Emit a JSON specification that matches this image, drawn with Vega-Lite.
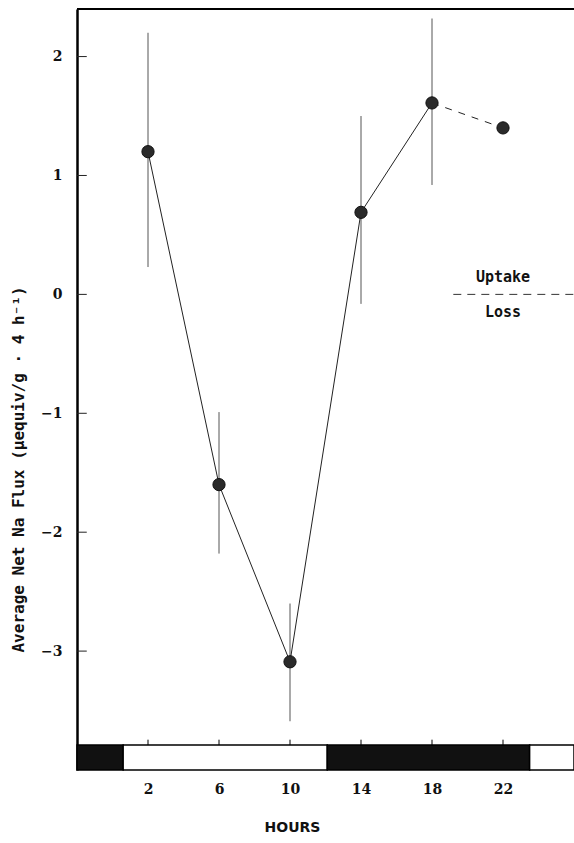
{
  "$schema": "https://vega.github.io/schema/vega-lite/v6.json",
  "width": 497,
  "height": 761,
  "autosize": {"type": "none"},
  "padding": {"left": 77, "top": 9, "right": 0, "bottom": 73},
  "background": "white",
  "config": {"view": {"stroke": null}, "axis": {"grid": false}},
  "datasets": {
    "flux": [
      {"hour": 2, "flux": 1.2, "lo": 0.23, "hi": 2.2},
      {"hour": 6, "flux": -1.6, "lo": -2.18, "hi": -0.99},
      {"hour": 10, "flux": -3.09, "lo": -3.59, "hi": -2.6},
      {"hour": 14, "flux": 0.69, "lo": -0.08, "hi": 1.5},
      {"hour": 18, "flux": 1.61, "lo": 0.92, "hi": 2.32}
    ],
    "dashed": [
      {"hour": 18, "flux": 1.61},
      {"hour": 22, "flux": 1.4}
    ],
    "points": [
      {"hour": 2, "flux": 1.2},
      {"hour": 6, "flux": -1.6},
      {"hour": 10, "flux": -3.09},
      {"hour": 14, "flux": 0.69},
      {"hour": 18, "flux": 1.61},
      {"hour": 22, "flux": 1.4}
    ],
    "photo": [
      {"start": -2, "end": 0.6, "phase": "dark"},
      {"start": 0.6, "end": 12.1, "phase": "light"},
      {"start": 12.1, "end": 23.5, "phase": "dark"},
      {"start": 23.5, "end": 26, "phase": "light"}
    ],
    "ticks": [{"hour": 2}, {"hour": 6}, {"hour": 10}, {"hour": 14}, {"hour": 18}, {"hour": 22}],
    "yticks": [{"flux": -3}, {"flux": -2}, {"flux": -1}, {"flux": 0}, {"flux": 1}, {"flux": 2}],
    "labels": [
      {"hour": 22, "flux": 0.15, "text": "Uptake"},
      {"hour": 22, "flux": -0.15, "text": "Loss"}
    ],
    "divider": [{"hour": 19.2, "hour2": 26, "flux": 0}]
  },
  "layer": [
    {
      "data": {"name": "photo"},
      "mark": {"type": "rect", "stroke": "black", "strokeWidth": 1.5},
      "encoding": {
        "x": {"field": "start", "type": "quantitative", "scale": {"domain": [-2, 26], "nice": false, "zero": false}},
        "x2": {"field": "end"},
        "y": {"datum": -3.79, "type": "quantitative", "scale": {"domain": [-4, 2.4], "nice": false, "zero": false}},
        "y2": {"datum": -4},
        "fill": {"field": "phase", "type": "nominal", "scale": {"domain": ["dark", "light"], "range": ["#111111", "white"]}, "legend": null}
      }
    },
    {
      "data": {"name": "ticks"},
      "mark": {"type": "rule", "color": "black", "strokeWidth": 1},
      "encoding": {
        "x": {"field": "hour", "type": "quantitative"},
        "y": {"datum": -3.79, "type": "quantitative"},
        "y2": {"datum": -3.745}
      }
    },
    {
      "data": {"name": "yticks"},
      "mark": {"type": "rule", "color": "#222222", "strokeWidth": 1},
      "encoding": {
        "x": {"datum": -2, "type": "quantitative"},
        "x2": {"datum": -1.45},
        "y": {"field": "flux", "type": "quantitative"}
      }
    },
    {
      "data": {"name": "ticks"},
      "mark": {"type": "rule", "color": "black", "strokeWidth": 2},
      "encoding": {
        "y": {"datum": 2.4, "type": "quantitative"}
      }
    },
    {
      "data": {"name": "flux"},
      "mark": {"type": "rule", "color": "#555555", "strokeWidth": 1},
      "encoding": {
        "x": {"field": "hour", "type": "quantitative"},
        "y": {"field": "lo", "type": "quantitative"},
        "y2": {"field": "hi"}
      }
    },
    {
      "data": {"name": "flux"},
      "mark": {"type": "line", "color": "#222222", "strokeWidth": 1},
      "encoding": {
        "x": {"field": "hour", "type": "quantitative"},
        "y": {"field": "flux", "type": "quantitative"}
      }
    },
    {
      "data": {"name": "dashed"},
      "mark": {"type": "line", "color": "#222222", "strokeWidth": 1, "strokeDash": [7, 7]},
      "encoding": {
        "x": {"field": "hour", "type": "quantitative"},
        "y": {"field": "flux", "type": "quantitative"}
      }
    },
    {
      "data": {"name": "points"},
      "mark": {"type": "circle", "size": 150, "color": "#2a2a2a", "opacity": 1, "stroke": "#111111", "strokeWidth": 1},
      "encoding": {
        "x": {
          "field": "hour", "type": "quantitative",
          "axis": {
            "title": "HOURS",
            "values": [2, 6, 10, 14, 18, 22],
            "format": "d",
            "domain": false,
            "ticks": false,
            "labelFont": "DejaVu Serif",
            "labelFontWeight": "bold",
            "labelFontSize": 14,
            "labelColor": "#111111",
            "labelPadding": 12,
            "titleFont": "DejaVu Sans",
            "titleFontWeight": "bold",
            "titleFontSize": 14,
            "titleColor": "#111111",
            "titleX": 215,
            "titleAlign": "center",
            "titlePadding": 24
          }
        },
        "y": {
          "field": "flux", "type": "quantitative",
          "axis": {
            "title": "Average Net Na Flux (μequiv/g · 4 h⁻¹)",
            "values": [-3, -2, -1, 0, 1, 2],
            "format": "d",
            "domain": true,
            "domainColor": "black",
            "domainWidth": 2.5,
            "ticks": false,
            "labelFont": "DejaVu Serif",
            "labelFontWeight": "bold",
            "labelFontSize": 14,
            "labelColor": "#111111",
            "labelPadding": 15,
            "titleFont": "DejaVu Sans Mono",
            "titleFontWeight": "bold",
            "titleFontSize": 16,
            "titleColor": "#111111",
            "titleAngle": 270,
            "titleAlign": "center",
            "titleBaseline": "middle",
            "titleX": -59,
            "titleY": 460
          }
        }
      }
    },
    {
      "data": {"name": "divider"},
      "mark": {"type": "rule", "color": "#333333", "strokeWidth": 1, "strokeDash": [8, 6]},
      "encoding": {
        "x": {"field": "hour", "type": "quantitative"},
        "x2": {"field": "hour2"},
        "y": {"field": "flux", "type": "quantitative"}
      }
    },
    {
      "data": {"name": "labels"},
      "mark": {"type": "text", "font": "DejaVu Sans Mono", "fontWeight": "bold", "fontSize": 15, "color": "#111111"},
      "encoding": {
        "x": {"field": "hour", "type": "quantitative"},
        "y": {"field": "flux", "type": "quantitative"},
        "text": {"field": "text"}
      }
    }
  ]
}
